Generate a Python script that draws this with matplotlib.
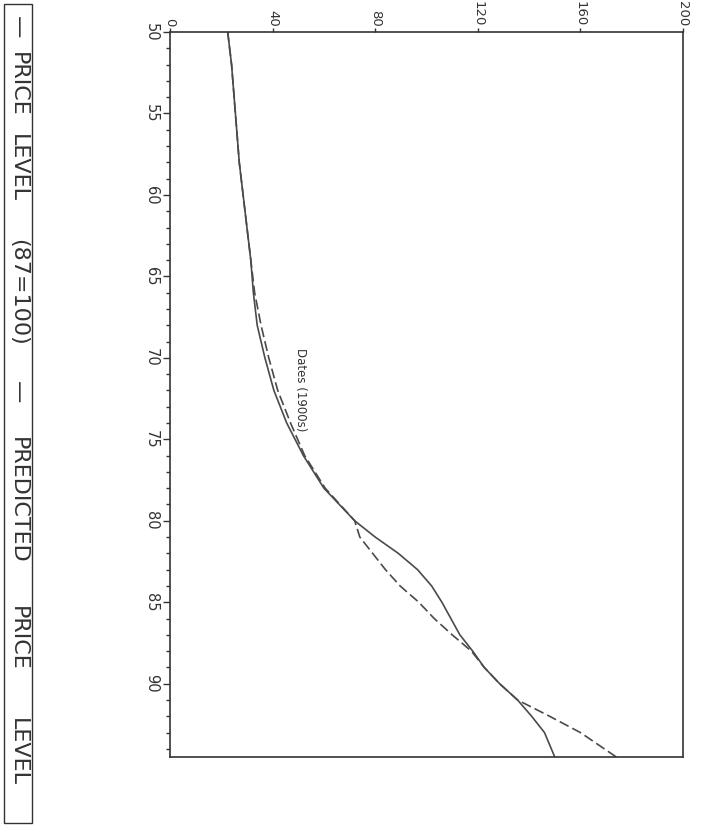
import matplotlib
matplotlib.use('Agg')
import matplotlib.pyplot as plt
from matplotlib.patches import Rectangle
from matplotlib.ticker import MultipleLocator

# ── Data ─────────────────────────────────────────────────────────────────────
dates = [50, 52, 54, 56, 58, 60, 62, 64, 66, 68, 70, 72, 74, 76, 78, 80,
         81, 82, 83, 84, 85, 86, 87, 88, 89, 90, 91, 92, 93, 94.5]
price_level = [22.5, 24, 25, 26, 27, 28.5, 30, 31.5, 32.5, 34, 37,
               40.5, 45.5, 52, 60, 72, 80, 89, 96.5, 102, 106, 109.5, 113,
               118, 122.5, 128.5, 135.5, 141, 146, 150]
predicted = [22.5, 24, 25, 26, 27, 28.5, 30, 31.5, 33, 35.5, 38.5,
             42, 47, 52.5, 60.5, 72, 74, 79, 84, 89.7, 97, 103, 110,
             117.5, 122.5, 128.5, 135.5, 148, 160, 174]

price_ticks = [0, 40, 80, 120, 160, 200]
date_ticks = [50, 55, 60, 65, 70, 75, 80, 85, 90]

legend_words = ['\u2014', 'PRICE', 'LEVEL', '(87=100)',
                '\u2014', 'PREDICTED', 'PRICE', 'LEVEL']
legend_word_y = [27, 84, 168, 292, 392, 500, 638, 752]   # pixel centres

W, H = 707, 833
fig = plt.figure(figsize=(W / 100, H / 100), dpi=100)
fig.patch.set_facecolor('white')

# the original chart is printed rotated 90 degrees clockwise:
# price runs left -> right, dates run top -> bottom
ax = fig.add_axes([170 / W, 1 - 757 / H, (683 - 170) / W, (757 - 32) / H])

line_col = '#4a4a4a'
ax.plot(price_level, dates, color=line_col, lw=1.2)
ax.plot(predicted, dates, color=line_col, lw=1.2, linestyle=(0, (6, 2.5)))

ax.set_xlim(0, 200)
ax.set_ylim(94.5, 50)

for s in ax.spines.values():
    s.set_color('#333333')
    s.set_linewidth(1.2)

ax.xaxis.tick_top()
ax.set_xticks(price_ticks)
ax.set_xticklabels([str(t) for t in price_ticks], rotation=-90,
                   fontsize=9.5, color='#333333')
ax.set_yticks(date_ticks)
ax.yaxis.set_minor_locator(MultipleLocator(1))
ax.set_yticklabels([str(t) for t in date_ticks], rotation=-90,
                   fontsize=10.5, color='#333333', va='center', ha='right')
ax.tick_params(axis='x', which='major', direction='out', length=3,
               width=1.0, color='#333333', pad=1)
ax.tick_params(axis='y', which='major', direction='out', length=5,
               width=1.0, color='#333333', pad=3)
ax.tick_params(axis='y', which='minor', direction='out', length=3,
               width=1.0, color='#333333')

# axis title (rotated with the chart)
fig.text(300 / W, 1 - 390 / H, 'Dates (1900s)', rotation=-90,
         fontsize=8.5, color='#333333', ha='center', va='center')

# legend strip along the left edge
fig.patches.append(Rectangle((4 / W, 1 - 823 / H), 28 / W, 819 / H,
                             transform=fig.transFigure, fill=False,
                             ec='#333333', lw=1.0))
for word, yy in zip(legend_words, legend_word_y):
    fig.text(18 / W, 1 - yy / H, word, rotation=-90, fontsize=16,
             color='#333333', ha='center', va='center')

fig.savefig('out.png', dpi=100, facecolor='white')
